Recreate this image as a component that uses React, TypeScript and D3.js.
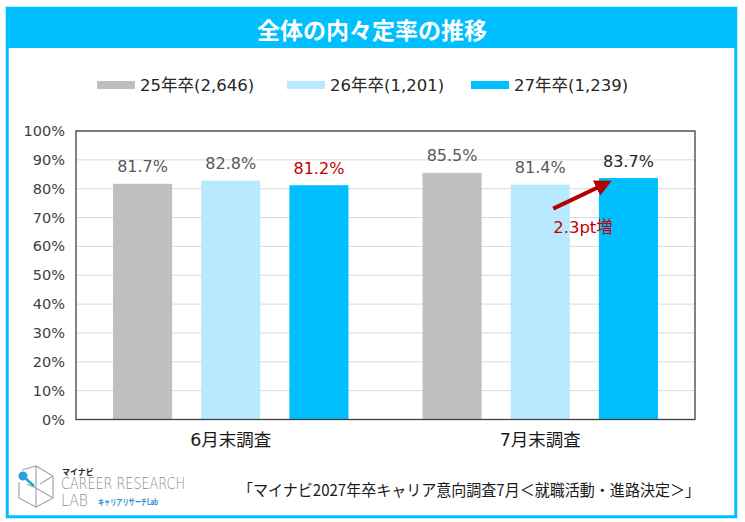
import React from "react";
import * as d3 from "d3";

const categories = ["6月末調査", "7月末調査"];
const seriesNames = ["25年卒(2,646)", "26年卒(1,201)", "27年卒(1,239)"];
const values25 = [81.7, 85.5];
const values26 = [82.8, 81.4];
const values27 = [81.2, 83.7];
const yTicks = [0, 10, 20, 30, 40, 50, 60, 70, 80, 90, 100];
const colors = ["#BFBFBF", "#B7EAFF", "#00BFFF"];
const title = "全体の内々定率の推移";
const source = "「マイナビ2027年卒キャリア意向調査7月＜就職活動・進路決定＞」";
const annotation = "2.3pt増";

const W = 745;
const H = 522;
const FONT = "'Noto Sans CJK JP', 'Noto Sans', sans-serif";
const NUMFONT = "'DejaVu Sans', 'Noto Sans CJK JP', sans-serif";

export default function App() {
  const plot = { left: 76, top: 131, right: 695, bottom: 419.5 };
  const x0 = d3.scaleBand<string>().domain(categories).range([plot.left, plot.right]).padding(0);
  const x1 = d3
    .scaleBand<number>()
    .domain([0, 1, 2])
    .range([0, x0.bandwidth()])
    .paddingInner(0.33)
    .paddingOuter(0.42);
  const y = d3.scaleLinear().domain([0, 100]).range([plot.bottom, plot.top]);
  const series = [values25, values26, values27];

  const labelColor = (s: number, i: number) => {
    if (s === 2 && i === 0) return "#C00000";
    if (s === 2 && i === 1) return "#262626";
    return "#595959";
  };

  const ax1 = x0(categories[1])! + x1(1)! + x1.bandwidth() * 0.72;
  const ay1 = y(values26[1]) + 24;
  const ax2 = x0(categories[1])! + x1(2)! + x1.bandwidth() * 0.14;
  const ay2 = y(values27[1]) + 5;

  const legendX = [97, 287, 471];

  return (
    <svg
      width={W}
      height={H}
      viewBox={`0 0 ${W} ${H}`}
      style={{ position: "absolute", left: 0, top: 0, background: "#fff" }}
      fontFamily={FONT}
    >
      <defs>
        <marker
          id="arrowhead"
          viewBox="0 0 10 10"
          refX="7"
          refY="5"
          markerWidth="4.2"
          markerHeight="4.2"
          orient="auto"
        >
          <path d="M0,0 L10,5 L0,10 z" fill="#B00000" />
        </marker>
      </defs>
      <rect x={0} y={0} width={W} height={H} fill="#fff" />
      <rect x={7} y={8} width={729} height={509} fill="none" stroke="#00BFFF" strokeWidth={3.5} />
      <rect x={5.5} y={6.5} width={732} height={512} fill="none" stroke="#BDEBFF" strokeWidth={1} />
      <rect x={7} y={8} width={729} height={40} fill="#00BFFF" />
      <text
        x={372}
        y={29}
        textAnchor="middle"
        dominantBaseline="central"
        fill="#fff"
        fontSize={23}
        fontWeight="bold"
      >
        {title}
      </text>

      {seriesNames.map((n, i) => (
        <g key={n}>
          <rect x={legendX[i]} y={81} width={38} height={8} fill={colors[i]} />
          <text
            x={legendX[i] + 43}
            y={85}
            dominantBaseline="central"
            fontSize={16.5}
            fill="#262626"
            fontFamily={NUMFONT}
          >
            {n}
          </text>
        </g>
      ))}

      {yTicks.map((t) => (
        <line
          key={t}
          x1={plot.left}
          x2={plot.right}
          y1={y(t)}
          y2={y(t)}
          stroke="#D9D9D9"
          strokeWidth={1}
        />
      ))}
      {yTicks.map((t) => (
        <text
          key={"t" + t}
          x={65}
          y={y(t)}
          textAnchor="end"
          dominantBaseline="central"
          fontSize={14.5}
          fill="#404040"
          fontFamily={NUMFONT}
        >
          {t}%
        </text>
      ))}

      {categories.map((c, i) => (
        <g key={c}>
          {series.map((vals, s) => (
            <g key={s}>
              <rect
                x={x0(c)! + x1(s)!}
                y={y(vals[i])}
                width={x1.bandwidth()}
                height={plot.bottom - y(vals[i])}
                fill={colors[s]}
              />
              <text
                x={x0(c)! + x1(s)! + x1.bandwidth() / 2}
                y={y(vals[i]) - 17}
                textAnchor="middle"
                dominantBaseline="central"
                fontSize={16}
                fill={labelColor(s, i)}
                fontFamily={NUMFONT}
              >
                {vals[i].toFixed(1)}%
              </text>
            </g>
          ))}
          <text
            x={x0(c)! + x0.bandwidth() / 2}
            y={440}
            textAnchor="middle"
            dominantBaseline="central"
            fontSize={17.5}
            fill="#1a1a1a"
            fontFamily={NUMFONT}
          >
            {c}
          </text>
        </g>
      ))}

      <rect
        x={plot.left}
        y={plot.top}
        width={plot.right - plot.left}
        height={plot.bottom - plot.top}
        fill="none"
        stroke="#404040"
        strokeWidth={1.3}
      />

      <line x1={ax1} y1={ay1} x2={ax2} y2={ay2} stroke="#B00000" strokeWidth={4} markerEnd="url(#arrowhead)" />
      <text
        x={583}
        y={227}
        textAnchor="middle"
        dominantBaseline="central"
        fontSize={16.5}
        fill="#C00000"
        fontFamily={NUMFONT}
      >
        {annotation}
      </text>

      <g>
        <path
          d="M22,470 L36,466 L53,476 L53,498 L36,507 L19,498 L19,482 M36,466 L36,488 L53,498 M36,488 L27,484 M36,488 L36,507 M53,476 L40,484"
          fill="none"
          stroke="#A6A6A6"
          strokeWidth={1.2}
        />
        <line x1={23} y1={476} x2={34} y2={486} stroke="#29A3DC" strokeWidth={2.5} />
        <circle cx={23} cy={476} r={4.5} fill="#29A3DC" />
        <text x={62} y={471} fontSize={8} fontWeight="bold" fill="#222" dominantBaseline="central">
          マイナビ
        </text>
        <text
          x={61}
          y={484}
          fontSize={15}
          fontWeight={300}
          fill="#8C8C8C"
          dominantBaseline="central"
          fontFamily="'DejaVu Sans', sans-serif"
          textLength={124}
          lengthAdjust="spacingAndGlyphs"
        >
          CAREER RESEARCH
        </text>
        <text
          x={61}
          y={501}
          fontSize={15}
          fontWeight={300}
          fill="#8C8C8C"
          dominantBaseline="central"
          fontFamily="'DejaVu Sans', sans-serif"
          textLength={27}
          lengthAdjust="spacingAndGlyphs"
        >
          LAB
        </text>
        <text
          x={98}
          y={501}
          fontSize={8.5}
          fontWeight="bold"
          fill="#1E90D0"
          dominantBaseline="central"
          textLength={60}
          lengthAdjust="spacingAndGlyphs"
        >
          キャリアリサーチLab
        </text>
      </g>

      <text
        x={238}
        y={489}
        dominantBaseline="central"
        fontSize={15.5}
        fill="#1a1a1a"
        textLength={462}
        lengthAdjust="spacingAndGlyphs"
      >
        {source}
      </text>
    </svg>
  );
}
